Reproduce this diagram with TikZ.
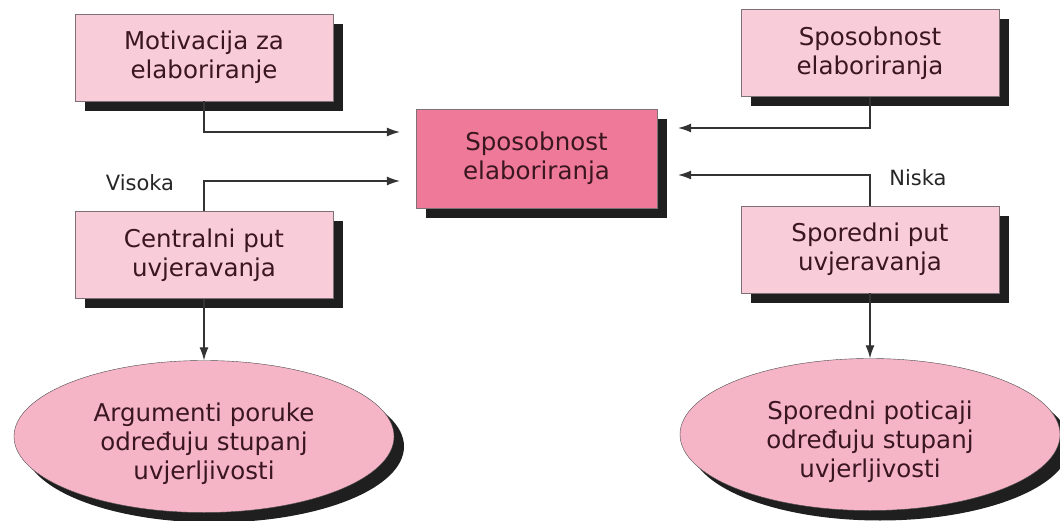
\documentclass[tikz,border=0pt]{standalone}
\usepackage{fontspec}
\setmainfont{DejaVu Sans}
\usetikzlibrary{shapes.geometric,shadows,arrows.meta}
\definecolor{boxpink}{RGB}{249,204,218}
\definecolor{ovalpink}{RGB}{246,180,199}
\definecolor{midpink}{RGB}{238,121,152}
\definecolor{inkred}{RGB}{58,22,32}
\definecolor{edgegray}{RGB}{125,112,118}
\newcommand{\ovaltext}[1]{\raisebox{-8pt}[\height][\depth]{\begin{tabular}{@{}c@{}}#1\end{tabular}}}

\begin{document}
\begin{tikzpicture}[x = 1pt, y = -1pt, >={Latex[length=13pt,width=9pt]},
  every node/.style = {font = \fontsize{24.5}{29}\selectfont, text = inkred, align = center},
  dshadow/.style = {drop shadow = {shadow xshift = 10pt, shadow yshift = -10pt, fill = black!88, opacity = 1}},
  box/.style = {rectangle, draw = edgegray, fill = boxpink, minimum width = 258pt, minimum height = 87pt, dshadow},
  oval/.style = {ellipse, draw = black!70, fill = ovalpink, minimum width = 380pt, minimum height = 152pt, inner sep = 0pt, dshadow},
  link/.style = {->, draw = black!80, line width = 1.1pt},
  tag/.style = {font = \fontsize{21}{25}\selectfont, text = black!85}]
\useasboundingbox (0,0) rectangle (1060,521);

\node[box] (motiv) at (204,57.5) {Motivacija za\\elaboriranje};
\node[box] (central) at (204,255) {Centralni put\\uvjeravanja};
\node[box] (ability) at (870,53) {Sposobnost\\elaboriranja};
\node[box] (sporedni) at (870,249.5) {Sporedni put\\uvjeravanja};
\node[box, fill = midpink, minimum width = 241pt, minimum height = 99pt] (sposob) at (536.5,158.5) {Sposobnost\\elaboriranja};
\node[oval] (argum) at (204,436.5) {\ovaltext{Argumenti poruke\\određuju stupanj\\uvjerljivosti}};
\node[oval] (poticaji) at (870,434.5) {\ovaltext{Sporedni poticaji\\određuju stupanj\\uvjerljivosti}};

\node[tag] (visoka) at (140,183) {Visoka};
\node[tag] (niska) at (918,178) {Niska};

\draw[link, shorten > = 16pt] (motiv.south) |- (sposob.west |- 0,132);
\draw[link, shorten > = 16pt] (central.north) |- (sposob.west |- 0,181);
\draw[link, shorten > = 21pt] (ability.south) |- (sposob.east |- 0,128);
\draw[link, shorten > = 21pt] (sporedni.north) |- (sposob.east |- 0,175);
\draw[link] (central.south) -- (argum.north);
\draw[link] (sporedni.south) -- (poticaji.north);
\end{tikzpicture}
\end{document}
